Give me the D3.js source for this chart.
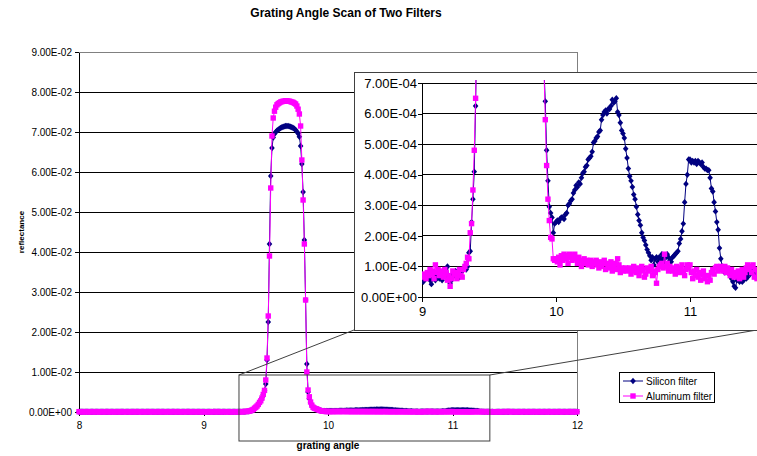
<!DOCTYPE html>
<html>
<head>
<meta charset="utf-8">
<script src="https://cdn.jsdelivr.net/npm/d3@7"></script>
<style>
body { margin: 0; background: #fff; }
text { font-family: "Liberation Sans", Arial, sans-serif; fill: #000; }
</style>
</head>
<body>
<div id="chart"></div>
<script>
// reflectance in units of 1e-4, one reading every 0.01 deg from 8.00 to 12.00
var silicon = [
    // 8.00 - 8.99
    0.6,0.7,0.5,0.8,0.6,0.7,0.9,0.6,0.5,0.7,
    0.8,0.6,0.7,0.5,0.6,0.9,0.7,0.6,0.8,0.7,
    0.5,0.6,0.7,0.8,0.6,0.5,0.7,0.9,0.8,0.6,
    0.7,0.6,0.5,0.7,0.8,0.7,0.6,0.9,0.7,0.5,
    0.6,0.8,0.7,0.6,0.7,0.5,0.8,0.6,0.7,0.9,
    0.7,0.6,0.5,0.7,0.6,0.8,0.7,0.6,0.9,0.7,
    0.5,0.7,0.6,0.8,0.7,0.6,0.5,0.7,0.8,0.6,
    0.7,0.9,0.6,0.7,0.5,0.6,0.8,0.7,0.6,0.7,
    0.8,0.6,0.5,0.7,0.6,0.9,0.7,0.6,0.8,0.5,
    0.6,0.7,0.8,0.6,0.7,0.5,0.6,0.8,0.7,0.6,
    // 9.00 - 9.99
    0.55,0.5,0.7,0.6,0.65,0.75,0.55,0.42,0.6,0.7,
    0.55,0.65,0.8,0.6,0.7,0.55,0.75,0.85,0.7,1.0,
    0.6,0.45,0.55,0.75,0.7,0.85,0.7,0.75,0.65,0.8,
    0.85,0.9,0.95,0.9,1.0,1.45,1.5,2.45,3.2,4.1,
    6.25,9,11.5,14.5,18.5,23,29,36,44,54,
    70,130,225,420,590,660,686,695,700,703,
    706,708,710,712,713,714,715,715,715,714,
    713,712,710,708,705,701,696,688,665,620,
    550,430,280,120,50,33,23,16,12,10,
    8.5,7.5,6.4,4.8,3.8,2.95,2.75,2.6,2.1,2.4,
    // 10.00 - 10.99
    2.45,2.5,2.45,2.55,2.6,2.6,2.55,2.7,2.75,3.0,
    3.05,3.15,3.2,3.4,3.5,3.65,3.6,3.75,3.7,3.9,
    4.05,4.1,4.25,4.3,4.5,4.55,4.6,4.75,5.05,5.1,
    5.2,5.25,5.4,5.45,5.8,5.95,6.05,6.1,6.0,6.15,
    6.15,6.25,6.45,6.35,6.4,6.5,6.05,5.95,5.7,5.45,
    5.35,5.2,4.85,4.55,4.2,3.95,3.8,3.6,3.35,3.2,
    2.95,2.7,2.5,2.35,2.1,1.95,1.85,1.7,1.55,1.45,
    1.35,1.2,1.3,1.05,1.25,1.3,1.15,1.3,1.2,1.4,
    1.25,1.1,1.3,1.4,1.3,1.2,1.15,1.3,1.35,1.4,
    1.45,1.5,1.75,1.9,2.15,2.4,3.1,3.7,4.0,4.5,
    // 11.00 - 11.49
    4.5,4.4,4.45,4.4,4.45,4.35,4.45,4.4,4.35,4.4,
    4.25,4.2,4.2,4.15,4.15,3.9,3.55,3.45,3.1,2.8,
    2.45,2.2,1.6,1.25,1.0,0.85,0.8,0.95,0.8,0.85,
    0.75,0.6,0.5,0.35,0.3,0.55,0.6,0.5,0.55,0.5,
    0.55,0.7,0.6,0.65,0.8,0.75,1.0,0.85,0.75,0.8,
    // 11.50 - 12.00
    0.7,0.6,0.8,0.7,0.5,0.6,0.9,0.7,0.6,0.8,
    0.7,0.5,0.7,0.6,0.8,0.9,0.6,0.7,0.5,0.8,
    0.6,0.7,0.6,0.8,0.7,0.5,0.6,0.9,0.7,0.8,
    0.6,0.7,0.5,0.6,0.8,0.7,0.6,0.9,0.7,0.5,
    0.6,0.8,0.7,0.6,0.7,0.5,0.8,0.6,0.7,0.9,
    0.6
];
var aluminum = [
    // 8.00 - 8.99
    0.8,0.7,0.9,0.6,0.8,1.0,0.7,0.8,0.6,0.9,
    0.7,0.8,1.0,0.7,0.6,0.8,0.9,0.7,0.8,0.6,
    0.9,0.8,0.7,1.0,0.8,0.6,0.7,0.9,0.8,0.7,
    0.6,0.9,0.8,0.7,1.0,0.8,0.7,0.6,0.8,0.9,
    0.7,0.8,0.6,0.9,0.7,1.0,0.8,0.7,0.9,0.6,
    0.8,0.7,0.9,0.8,0.6,0.7,1.0,0.8,0.7,0.9,
    0.6,0.8,0.7,0.9,0.8,0.7,1.0,0.6,0.8,0.7,
    0.9,0.7,0.8,0.6,0.9,0.8,0.7,1.0,0.8,0.6,
    0.7,0.9,0.8,0.7,0.6,0.8,0.9,0.7,1.0,0.8,
    0.7,0.6,0.8,0.9,0.7,0.8,0.6,0.9,0.7,0.8,
    // 9.00 - 9.99
    0.7,0.65,0.75,0.6,0.8,0.7,0.9,0.75,0.85,0.6,
    1.05,0.8,0.9,0.7,0.85,0.75,0.65,0.9,0.8,0.55,
    0.7,0.35,0.6,0.85,0.75,0.8,0.6,0.75,0.9,0.7,
    0.65,0.9,1.0,1.1,1.3,1.25,2.1,2.4,3.5,4.8,
    6.5,9.5,12,15,19,24,28,35,44,54,
    80,135,240,390,560,690,735,752,762,768,
    771,773,775,776,777,777,778,778,777,777,
    776,775,774,772,770,765,757,745,715,630,
    530,420,280,100,55,38,25,17,12,9.5,
    8.5,7.5,5.8,4.3,3.2,2.5,1.95,1.9,1.25,1.2,
    // 10.00 - 10.99
    1.25,1.15,1.3,1.05,1.35,1.2,1.4,1.25,1.35,1.1,
    1.4,1.3,1.2,1.35,1.4,1.25,1.1,1.3,1.2,1.0,
    1.15,1.25,1.1,1.2,1.05,1.15,1.2,1.0,1.15,1.1,
    1.2,1.05,0.95,1.15,1.0,1.1,1.2,0.9,1.1,1.05,
    0.95,1.15,0.85,1.0,1.1,0.9,1.25,1.05,0.8,0.95,
    0.85,0.9,0.95,0.85,0.9,0.95,0.75,0.85,1.0,0.9,
    0.8,0.95,0.7,0.85,1.0,0.9,0.65,0.75,0.95,0.85,
    0.9,1.0,0.7,0.85,0.8,0.45,0.9,1.0,1.05,1.1,
    0.95,1.4,1.0,1.1,0.85,1.0,0.9,0.85,0.95,0.75,
    1.0,0.9,0.8,0.95,1.05,0.85,0.7,0.9,1.05,0.95,
    // 11.00 - 11.49
    1.05,0.8,0.6,0.85,0.7,0.9,0.65,0.8,0.55,0.75,
    0.85,0.6,0.7,0.5,0.7,0.55,0.8,0.9,0.75,0.95,
    1.0,0.85,0.95,1.0,0.9,0.85,1.0,0.8,0.95,0.85,
    0.7,0.9,0.75,0.65,0.8,0.7,0.85,0.6,0.75,0.9,
    0.65,0.8,0.95,1.05,0.9,1.0,0.8,1.05,0.65,0.9,
    // 11.50 - 12.00
    0.6,0.8,0.7,0.9,0.6,0.8,1.0,0.7,0.8,0.9,
    0.7,0.6,0.8,0.9,0.7,1.0,0.8,0.7,0.6,0.9,
    0.8,0.7,0.9,0.8,0.6,0.7,1.0,0.8,0.7,0.9,
    0.8,0.6,0.8,0.7,0.9,0.8,1.0,0.7,0.6,0.8,
    0.9,0.7,0.8,0.6,0.9,1.0,0.7,0.8,0.9,0.7,
    0.8
];
var seriesNames = ["Silicon filter", "Aluminum filter"];
var seriesColours = ["#000080", "#ff00ff"];
var mainXTicks = [8, 9, 10, 11, 12];
var mainYTicks = [0, 0.01, 0.02, 0.03, 0.04, 0.05, 0.06, 0.07, 0.08, 0.09];
var insetXTicks = [9, 10, 11];
var insetYTicks = [0, 0.0001, 0.0002, 0.0003, 0.0004, 0.0005, 0.0006, 0.0007];
// area of the main chart that the inset blows up (angle, reflectance)
var zoomAngles = [9.285, 11.3];
var zoomReflectance = [-0.00725, 0.00925];

var width = 757, height = 456;
var mainLeft = 79, mainRight = 577, mainTop = 52, mainBottom = 412;
var insetBoxLeft = 354, insetBoxTop = 72, insetBoxBottom = 330;
var insetLeft = 422, insetRight = 757, insetTop = 83, insetBottom = 297;

var angles = silicon.map((d, i) => 8 + i * 0.01);
var series = [silicon, aluminum].map((values, s) => {
    return values.map((v, i) => {return {a: angles[i], r: v * 1e-4, s: s}});
});

function sciFormat(d) {
    var parts = d.toExponential(2).split("e");
    var exp = +parts[1];
    return parts[0] + "E" + (exp < 0 ? "-" : "+") + String(Math.abs(exp)).padStart(2, "0");
}

function marker(sel, s) {
    if (s == 0) {
        sel.append("path")
            .attr("d", "M0,-3.2L2.8,0L0,3.2L-2.8,0Z")
            .style("fill", seriesColours[0]);
    } else {
        sel.append("rect")
            .attr("x", -2.7).attr("y", -2.7)
            .attr("width", 5.4).attr("height", 5.4)
            .style("fill", seriesColours[1]);
    }
}

function drawSeries(g, xs, ys, data, s) {
    var line = d3.line().x(d => xs(d.a)).y(d => ys(d.r));
    g.append("path")
        .datum(data)
        .attr("d", line)
        .style("fill", "none")
        .style("stroke", seriesColours[s])
        .style("stroke-width", 1);
    g.selectAll("g.m" + s)
        .data(data).enter()
        .append("g")
        .attr("class", "m" + s)
        .attr("transform", d => "translate(" + xs(d.a) + "," + ys(d.r) + ")")
        .each(function() { marker(d3.select(this), s); });
}

var svg = d3.select("#chart").append("svg")
    .attr("width", width)
    .attr("height", height);

svg.append("rect").attr("width", width).attr("height", height).style("fill", "#fff");

// main chart
var x = d3.scaleLinear().domain([8, 12]).range([mainLeft, mainRight]);
var y = d3.scaleLinear().domain([0, 0.09]).range([mainBottom, mainTop]);

svg.append("text")
    .text("Grating Angle Scan of Two Filters")
    .attr("x", 346)
    .attr("y", 17)
    .attr("text-anchor", "middle")
    .style("font-size", "12px")
    .style("font-weight", "bold");

// grid
svg.selectAll("line.grid")
    .data(mainYTicks.slice(1, -1)).enter()
    .append("line")
    .attr("class", "grid")
    .attr("x1", mainLeft).attr("x2", mainRight)
    .attr("y1", d => y(d)).attr("y2", d => y(d))
    .style("stroke", "#000")
    .style("shape-rendering", "crispEdges");
// plot area border (top and right)
svg.append("path")
    .attr("d", "M" + mainLeft + "," + y(0.09) + "H" + x(12) + "V" + y(0))
    .style("fill", "none")
    .style("stroke", "#808080")
    .style("shape-rendering", "crispEdges");

var yAxis = svg.append("g")
    .attr("transform", "translate(" + mainLeft + ",0)")
    .call(d3.axisLeft(y).tickValues(mainYTicks).tickFormat(sciFormat)
        .tickSizeInner(4).tickSizeOuter(0).tickPadding(3))
    .attr("font-size", 10);
var xAxis = svg.append("g")
    .attr("transform", "translate(0," + mainBottom + ")")
    .call(d3.axisBottom(x).tickValues(mainXTicks).tickFormat(d3.format("d"))
        .tickSizeInner(4).tickSizeOuter(0).tickPadding(6))
    .attr("font-size", 10);
svg.selectAll(".domain, .tick line").style("shape-rendering", "crispEdges");

svg.append("text")
    .text("reflectance")
    .attr("transform", "translate(24," + ((mainTop + mainBottom) / 2) + ") rotate(-90)")
    .attr("text-anchor", "middle")
    .style("font-size", "8px")
    .style("font-weight", "bold");
svg.append("text")
    .text("grating angle")
    .attr("x", (mainLeft + mainRight) / 2)
    .attr("y", 449)
    .attr("text-anchor", "middle")
    .style("font-size", "10px")
    .style("font-weight", "bold");

var mainG = svg.append("g");
series.forEach((data, s) => drawSeries(mainG, x, y, data, s));

// zoom box and its connectors to the inset
var zx0 = x(zoomAngles[0]), zx1 = x(zoomAngles[1]);
var zyTop = y(zoomReflectance[1]), zyBottom = y(zoomReflectance[0]);
svg.append("rect")
    .attr("x", zx0).attr("y", zyTop)
    .attr("width", zx1 - zx0).attr("height", zyBottom - zyTop)
    .style("fill", "none")
    .style("stroke", "#404040");
svg.append("line")
    .attr("x1", zx0).attr("y1", zyTop)
    .attr("x2", insetBoxLeft).attr("y2", insetBoxBottom)
    .style("stroke", "#404040");
svg.append("line")
    .attr("x1", zx1).attr("y1", zyTop)
    .attr("x2", width).attr("y2", insetBoxBottom)
    .style("stroke", "#404040");

// inset
var ix = d3.scaleLinear().domain([9, 11.5]).range([insetLeft, insetRight]);
var iy = d3.scaleLinear().domain([0, 0.0007]).range([insetBottom, insetTop]);

svg.append("rect")
    .attr("x", insetBoxLeft + 0.5).attr("y", insetBoxTop + 0.5)
    .attr("width", width + 10 - insetBoxLeft).attr("height", insetBoxBottom - insetBoxTop)
    .style("fill", "#fff")
    .style("stroke", "#404040");

svg.selectAll("line.igrid")
    .data(insetYTicks.slice(1)).enter()
    .append("line")
    .attr("class", "igrid")
    .attr("x1", insetLeft).attr("x2", insetRight)
    .attr("y1", d => iy(d)).attr("y2", d => iy(d))
    .style("stroke", "#000")
    .style("shape-rendering", "crispEdges");

var iyAxis = svg.append("g")
    .attr("transform", "translate(" + insetLeft + ",0)")
    .call(d3.axisLeft(iy).tickValues(insetYTicks).tickFormat(sciFormat)
        .tickSizeInner(4).tickSizeOuter(0).tickPadding(1))
    .attr("font-size", 13);
var ixAxis = svg.append("g")
    .attr("transform", "translate(0," + insetBottom + ")")
    .call(d3.axisBottom(ix).tickValues(insetXTicks).tickFormat(d3.format("d"))
        .tickSizeInner(5).tickSizeOuter(0).tickPadding(5))
    .attr("font-size", 13);
svg.selectAll(".domain, .tick line").style("shape-rendering", "crispEdges");

svg.append("clipPath").attr("id", "insetClip")
    .append("rect")
    .attr("x", insetLeft).attr("y", insetTop - 3)
    .attr("width", insetRight - insetLeft + 5).attr("height", insetBottom - insetTop + 10);
var insetG = svg.append("g").attr("clip-path", "url(#insetClip)");
series.forEach((data, s) => {
    drawSeries(insetG, ix, iy, data.filter(d => d.a >= 8.995 && d.a <= 11.525), s);
});

// legend
var legend = svg.append("g").attr("transform", "translate(619,372)");
legend.append("rect")
    .attr("x", 0.5).attr("y", 0.5)
    .attr("width", 95).attr("height", 30)
    .style("fill", "#fff")
    .style("stroke", "#000");
seriesNames.forEach((name, s) => {
    var row = legend.append("g").attr("transform", "translate(0," + (9 + s * 15) + ")");
    row.append("line")
        .attr("x1", 4).attr("x2", 24)
        .style("stroke", seriesColours[s]);
    marker(row.append("g").attr("transform", "translate(14,0)"), s);
    row.append("text")
        .text(name)
        .attr("x", 27)
        .attr("y", 3.5)
        .style("font-size", "10px");
});
</script>
</body>
</html>
